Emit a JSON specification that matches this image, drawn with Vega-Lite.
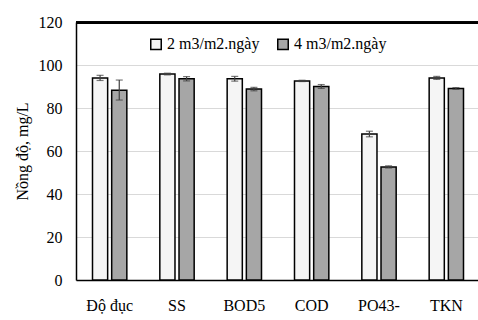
{
  "$schema": "https://vega.github.io/schema/vega-lite/v6.json",
  "width": 404,
  "height": 258,
  "autosize": {"type": "none"},
  "padding": {"left": 76, "top": 22, "right": 0, "bottom": 40},
  "background": "white",
  "data": {
    "values": [
      {"cat": "Độ đục", "series": "2 m3/m2.ngày", "value": 94, "lo": 92.8, "hi": 95.2},
      {"cat": "Độ đục", "series": "4 m3/m2.ngày", "value": 88.3, "lo": 83.7, "hi": 93},
      {"cat": "SS", "series": "2 m3/m2.ngày", "value": 95.8, "lo": 95.4, "hi": 96.2},
      {"cat": "SS", "series": "4 m3/m2.ngày", "value": 93.6, "lo": 92.6, "hi": 94.6},
      {"cat": "BOD5", "series": "2 m3/m2.ngày", "value": 93.6, "lo": 92.5, "hi": 94.7},
      {"cat": "BOD5", "series": "4 m3/m2.ngày", "value": 88.8, "lo": 88, "hi": 89.6},
      {"cat": "COD", "series": "2 m3/m2.ngày", "value": 92.6, "lo": 92.3, "hi": 92.9},
      {"cat": "COD", "series": "4 m3/m2.ngày", "value": 90, "lo": 89.1, "hi": 90.9},
      {"cat": "PO43-", "series": "2 m3/m2.ngày", "value": 67.9, "lo": 66.6, "hi": 69.2},
      {"cat": "PO43-", "series": "4 m3/m2.ngày", "value": 52.6, "lo": 52.1, "hi": 53.1},
      {"cat": "TKN", "series": "2 m3/m2.ngày", "value": 94, "lo": 93.3, "hi": 94.7},
      {"cat": "TKN", "series": "4 m3/m2.ngày", "value": 89.1, "lo": 88.7, "hi": 89.5}
    ]
  },
  "layer": [
    {
      "mark": {"type": "bar", "stroke": "black", "strokeWidth": 1.5},
      "encoding": {
        "x": {
          "field": "cat", "type": "nominal", "sort": null,
          "scale": {"paddingInner": 0.49, "paddingOuter": 0.245},
          "axis": {"title": null, "labelAngle": 0, "ticks": false, "domain": true, "domainColor": "black", "domainWidth": 1.5, "labelPadding": 17, "labelFont": "Liberation Serif", "labelFontSize": 16, "labelColor": "black"}
        },
        "xOffset": {"field": "series", "type": "nominal", "scale": {"paddingInner": 0.21, "paddingOuter": 0}},
        "y": {
          "field": "value", "type": "quantitative",
          "scale": {"domain": [0, 120]},
          "axis": {"title": "Nồng độ, mg/L", "values": [0, 20, 40, 60, 80, 100, 120], "ticks": false, "domain": true, "domainColor": "black", "domainWidth": 1.5, "grid": true, "gridColor": "#d9d9d9", "gridWidth": 1.2,
            "labelPadding": 14, "labelFont": "Liberation Serif", "labelFontSize": 16, "labelColor": "black", "titleFont": "Liberation Serif", "titleFontSize": 16, "titleFontWeight": "normal", "titleColor": "black", "titlePadding": 8}
        },
        "fill": {
          "field": "series", "type": "nominal",
          "scale": {"range": ["#f5f5f5", "#a6a6a6"]},
          "legend": {"title": null, "orient": "none", "direction": "horizontal", "legendX": 72, "legendY": 14, "symbolType": "square", "symbolSize": 110, "symbolStrokeColor": "black", "symbolStrokeWidth": 1.5, "symbolOpacity": 1, "labelFont": "Liberation Serif", "labelFontSize": 16, "labelColor": "black", "columnPadding": 14, "labelOffset": 3}
        }
      }
    },
    {
      "mark": {"type": "rule", "color": "#404040", "strokeWidth": 1.2},
      "encoding": {
        "x": {"field": "cat", "type": "nominal", "sort": null},
        "xOffset": {"field": "series", "type": "nominal"},
        "y": {"field": "lo", "type": "quantitative"},
        "y2": {"field": "hi"}
      }
    },
    {
      "mark": {"type": "tick", "color": "#404040", "thickness": 1.2, "size": 7},
      "encoding": {
        "x": {"field": "cat", "type": "nominal", "sort": null},
        "xOffset": {"field": "series", "type": "nominal"},
        "y": {"field": "lo", "type": "quantitative"}
      }
    },
    {
      "mark": {"type": "tick", "color": "#404040", "thickness": 1.2, "size": 7},
      "encoding": {
        "x": {"field": "cat", "type": "nominal", "sort": null},
        "xOffset": {"field": "series", "type": "nominal"},
        "y": {"field": "hi", "type": "quantitative"}
      }
    },
    {
      "mark": {"type": "rule", "color": "black", "strokeWidth": 2},
      "encoding": {"y": {"datum": 119.6}}
    }
  ]
}
